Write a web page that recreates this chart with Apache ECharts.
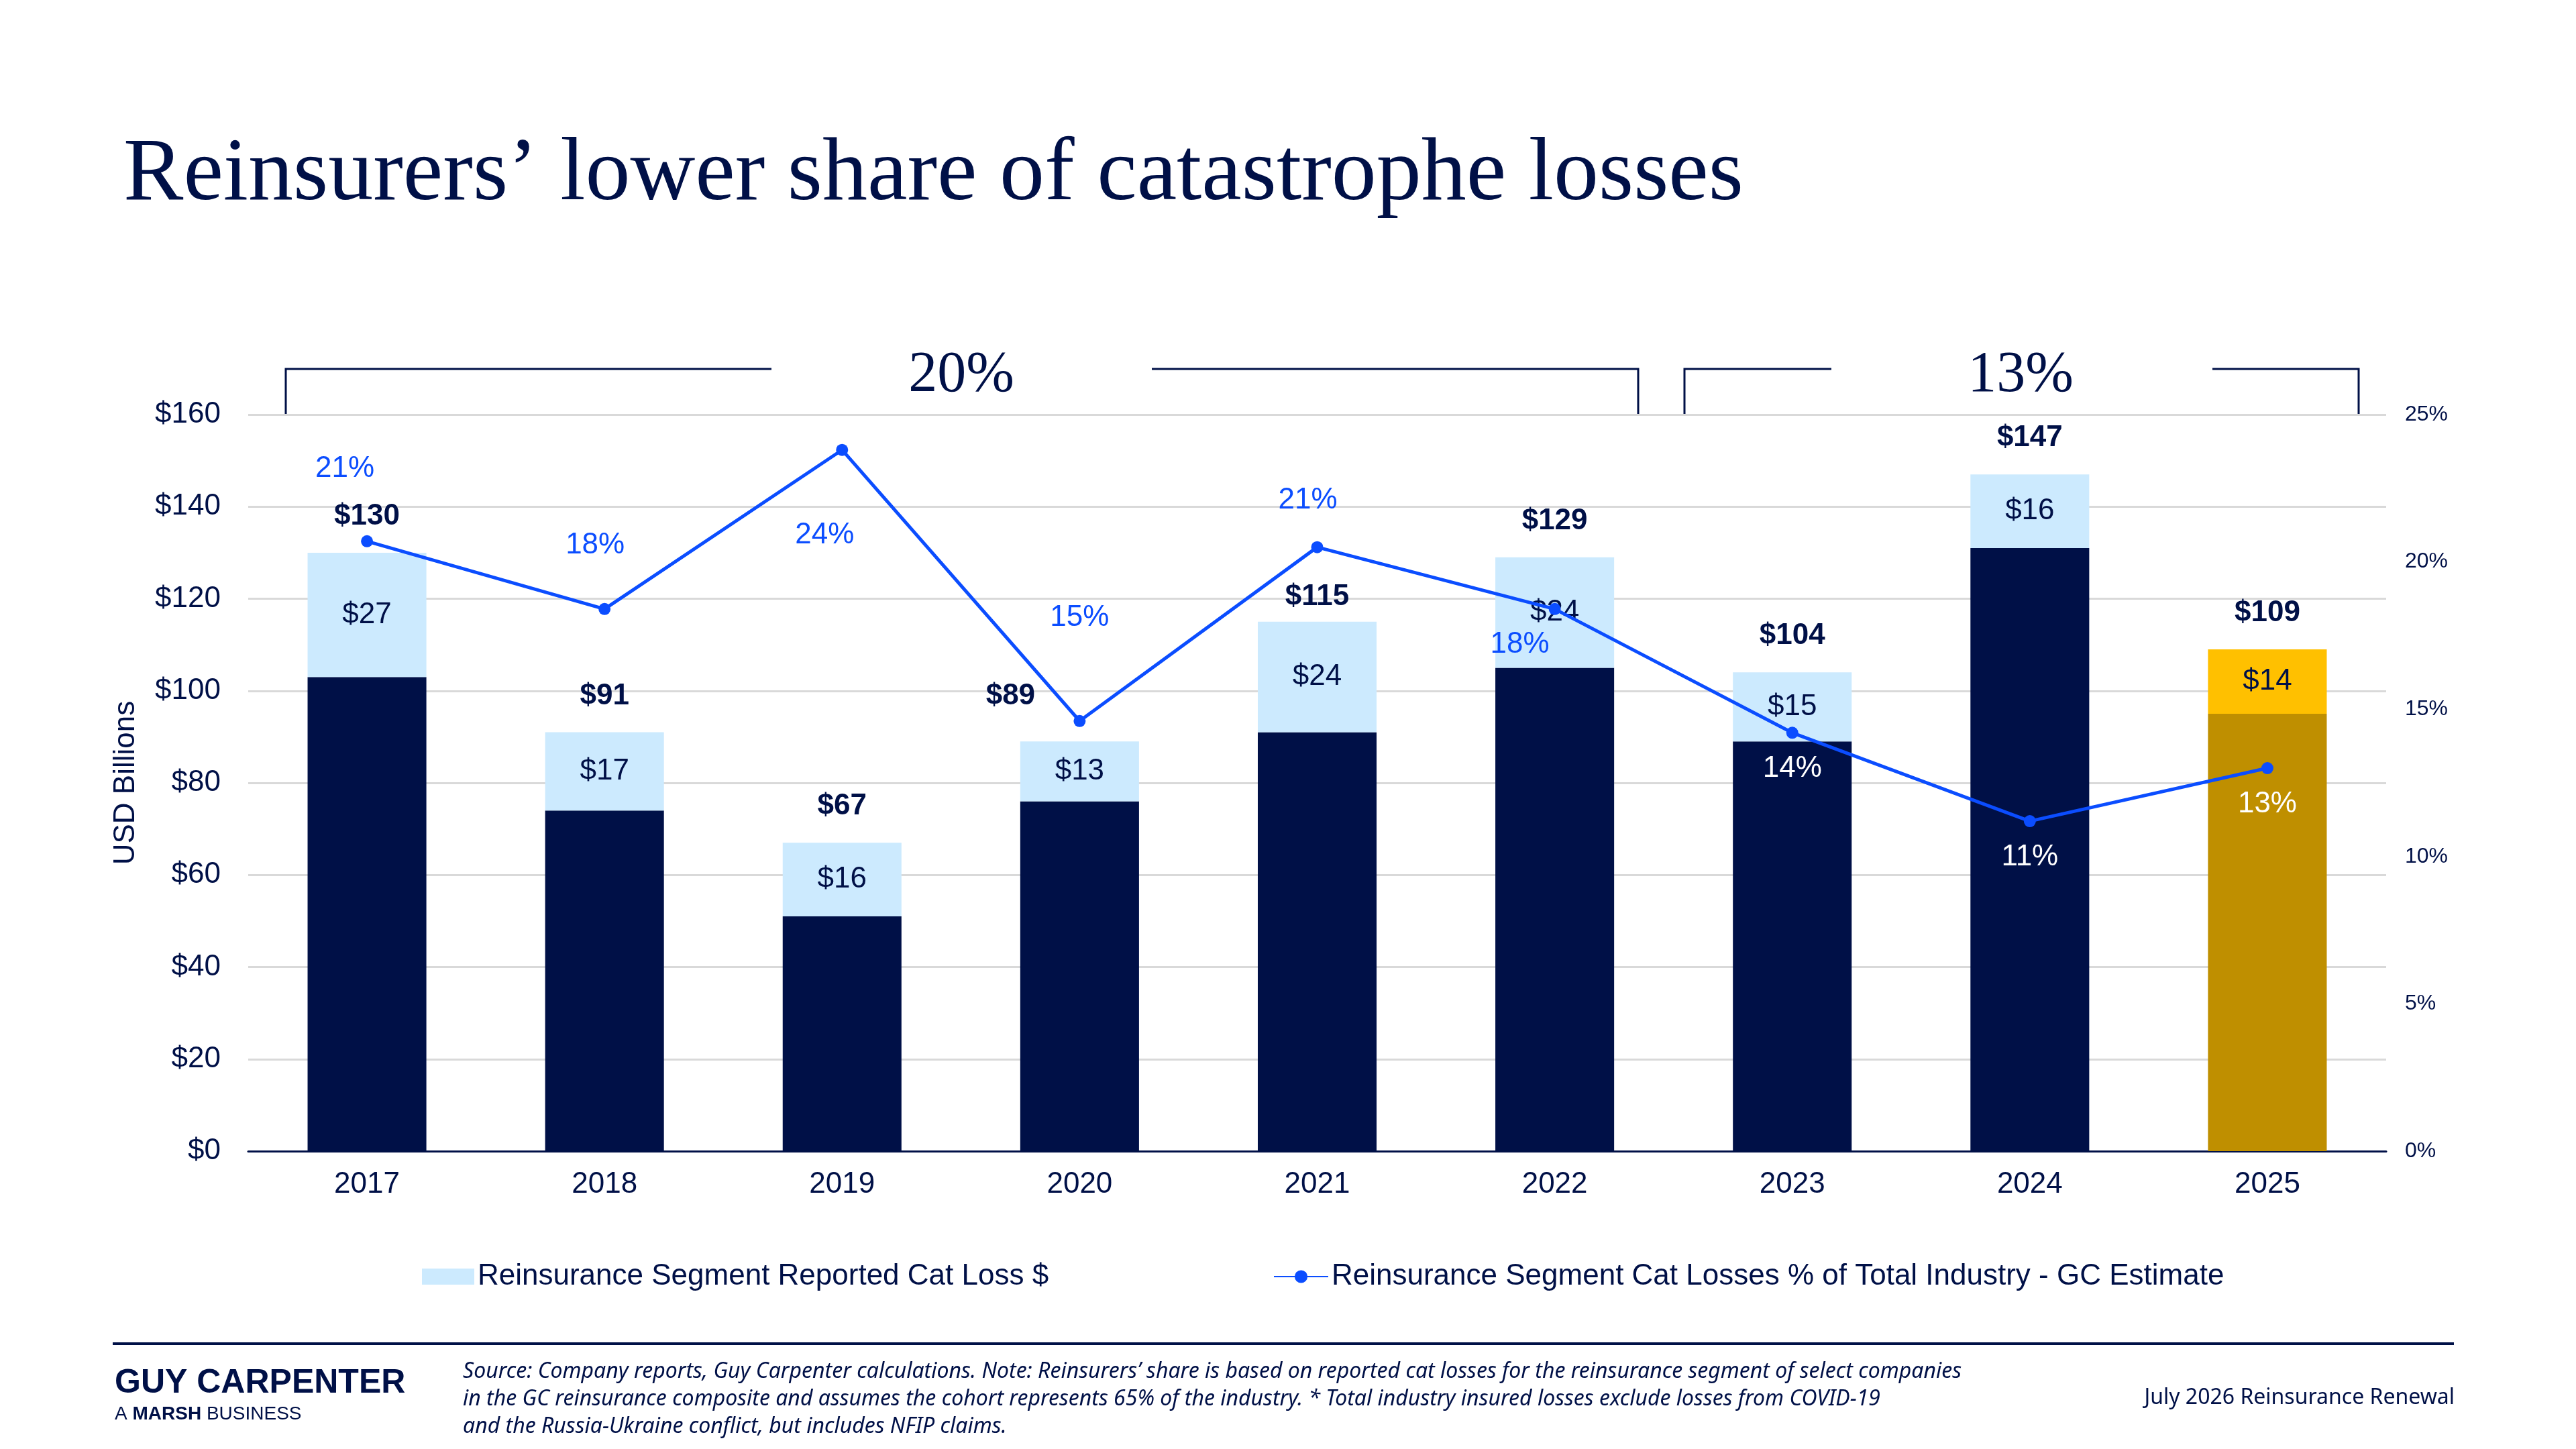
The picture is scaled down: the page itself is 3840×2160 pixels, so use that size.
<!DOCTYPE html>
<html>
<head>
<meta charset="utf-8">
<script src="https://cdn.jsdelivr.net/npm/echarts@6/dist/echarts.min.js"></script>
<style>
  html, body {margin: 0; padding: 0; background: #fff;}
  #main {width: 3840px; height: 2160px;}
</style>
</head>
<body>
<div id="main"></div>
<script>
// chart data
const years = ['2017', '2018', '2019', '2020', '2021', '2022', '2023', '2024', '2025'];
const totalLoss = [130, 91, 67, 89, 115, 129, 104, 147, 109];
const reinsLoss = [27, 17, 16, 13, 24, 24, 15, 16, 14];
const reinsShare = [20.7, 18.4, 23.8, 14.6, 20.5, 18.4, 14.2, 11.2, 13.0];
const periodAverages = ['20%', '13%'];

// label placement (offset from the mark, px)
const totalLabelOffsets = [[0, -54], [0, -54], [0, -54], [-103, -67], [0, -37], [0, -54], [0, -54], [0, -54], [0, -54]];
const shareLabelOffsets = [[-33, -108], [-14, -95], [-26, 127], [0, -154], [-14, -70], [-52, 53], [0, 54], [0, 54], [0, 54]];
const shareLabelColors = ['#0B4DFF', '#0B4DFF', '#0B4DFF', '#0B4DFF', '#0B4DFF', '#0B4DFF', '#fff', '#fff', '#fff'];

const NAVY = '#001047';
const LIGHT = '#CCEAFE';
const BLUE = '#0B4DFF';
const GOLD_DARK = '#BF8F00';
const GOLD = '#FFC000';
const SANS = '"Liberation Sans", Arial, sans-serif';
const LAST = years.length - 1;

const otherLoss = totalLoss.map((t, i) => t - reinsLoss[i]);

const chart = echarts.init(document.getElementById('main'));

chart.setOption({
  backgroundColor: '#fff',
  animation: false,
  textStyle: {fontFamily: SANS, color: NAVY},
  grid: {left: 370, right: 283, top: 618, bottom: 444},
  legend: [
    {
      left: 624, top: 1876,
      itemWidth: 78, itemHeight: 24,
      textStyle: {fontSize: 44, color: NAVY, fontFamily: SANS},
      data: [{name: 'Reinsurance Segment Reported Cat Loss $', icon: 'rect'}]
    },
    {
      left: 1893, top: 1876,
      itemWidth: 81, itemHeight: 24,
      textStyle: {fontSize: 44, color: NAVY, fontFamily: SANS},
      data: ['Reinsurance Segment Cat Losses % of Total Industry - GC Estimate']
    }
  ],
  xAxis: {
    type: 'category',
    data: years,
    axisTick: {show: false},
    axisLine: {lineStyle: {color: NAVY, width: 3}},
    axisLabel: {fontSize: 44, color: NAVY, margin: 28}
  },
  yAxis: [
    {
      type: 'value', min: 0, max: 160, interval: 20,
      name: 'USD Billions', nameLocation: 'middle', nameGap: 160, nameRotate: 90,
      nameTextStyle: {fontSize: 44, color: NAVY},
      axisLabel: {fontSize: 44, color: NAVY, margin: 41, formatter: v => '$' + v},
      splitLine: {lineStyle: {color: '#D9D9D9', width: 3}}
    },
    {
      type: 'value', min: 0, max: 25, interval: 5,
      axisLabel: {fontSize: 32, color: NAVY, margin: 28, formatter: v => v + '%'},
      splitLine: {show: false}
    }
  ],
  series: [
    {
      name: 'Other',
      type: 'bar', stack: 'loss', barWidth: '50%',
      itemStyle: {color: NAVY},
      data: otherLoss.map((v, i) => i === LAST ? {value: v, itemStyle: {color: GOLD_DARK}} : v)
    },
    {
      name: 'Reinsurance Segment Reported Cat Loss $',
      type: 'bar', stack: 'loss', barWidth: '50%',
      itemStyle: {color: LIGHT},
      label: {show: true, position: 'inside', fontSize: 44, color: NAVY, formatter: p => '$' + p.value},
      data: reinsLoss.map((v, i) => i === LAST ? {value: v, itemStyle: {color: GOLD}} : v)
    },
    {
      name: 'Total',
      type: 'scatter', silent: true, z: 6,
      symbolSize: 1,
      itemStyle: {color: 'rgba(0,0,0,0)', opacity: 1},
      data: totalLoss.map((v, i) => ({
        value: v,
        label: {
          show: true, position: 'inside', offset: totalLabelOffsets[i],
          fontSize: 44, fontWeight: 'bold', color: NAVY, opacity: 1,
          formatter: p => '$' + p.value
        }
      }))
    },
    {
      name: 'Reinsurance Segment Cat Losses % of Total Industry - GC Estimate',
      type: 'line', yAxisIndex: 1, z: 5,
      symbol: 'circle', symbolSize: 18,
      lineStyle: {color: BLUE, width: 5},
      itemStyle: {color: BLUE},
      data: reinsShare.map((v, i) => ({
        value: v,
        label: {
          show: true, position: 'inside',
          offset: shareLabelOffsets[i],
          fontSize: 44, color: shareLabelColors[i],
          formatter: p => Math.round(p.value) + '%'
        }
      }))
    }
  ],
  graphic: [
    {
      type: 'text', x: 184, y: 262,
      style: {
        text: 'Reinsurers’ lower share of catastrophe losses',
        font: '134px "Liberation Serif", serif', fill: NAVY,
        textAlign: 'left', textVerticalAlign: 'middle'
      }
    },
    // period brackets
    {type: 'polyline', shape: {points: [[426, 618], [426, 550], [1150, 550]]}, style: {stroke: NAVY, lineWidth: 3, fill: null}},
    {type: 'polyline', shape: {points: [[1717, 550], [2442, 550], [2442, 618]]}, style: {stroke: NAVY, lineWidth: 3, fill: null}},
    {type: 'polyline', shape: {points: [[2511, 618], [2511, 550], [2730, 550]]}, style: {stroke: NAVY, lineWidth: 3, fill: null}},
    {type: 'polyline', shape: {points: [[3298, 550], [3516, 550], [3516, 618]]}, style: {stroke: NAVY, lineWidth: 3, fill: null}},
    {
      type: 'text', x: 1433, y: 560,
      style: {text: periodAverages[0], font: '86px "Liberation Serif", serif', fill: NAVY, textAlign: 'center', textVerticalAlign: 'middle'}
    },
    {
      type: 'text', x: 3012, y: 560,
      style: {text: periodAverages[1], font: '86px "Liberation Serif", serif', fill: NAVY, textAlign: 'center', textVerticalAlign: 'middle'}
    },
    // footer
    {type: 'line', shape: {x1: 168, y1: 2003, x2: 3658, y2: 2003}, style: {stroke: NAVY, lineWidth: 4}},
    {
      type: 'text', x: 171, y: 2062,
      style: {text: 'GUY CARPENTER', font: 'bold 50px "Liberation Sans", Arial, sans-serif', fill: NAVY, textAlign: 'left', textVerticalAlign: 'middle'}
    },
    {
      type: 'text', x: 171, y: 2108,
      style: {
        text: '{a|A }{b|MARSH}{a| BUSINESS}',
        rich: {
          a: {font: '28px "Liberation Sans", Arial, sans-serif', fill: NAVY},
          b: {font: 'bold 28px "Liberation Sans", Arial, sans-serif', fill: NAVY}
        },
        textAlign: 'left', textVerticalAlign: 'middle'
      }
    },
    {
      type: 'text', x: 690, y: 2024,
      style: {
        text: 'Source: Company reports, Guy Carpenter calculations. Note: Reinsurers’ share is based on reported cat losses for the reinsurance segment of select companies\n' +
              'in the GC reinsurance composite and assumes the cohort represents 65% of the industry. * Total industry insured losses exclude losses from COVID-19\n' +
              'and the Russia-Ukraine conflict, but includes NFIP claims.',
        font: 'italic 32px "Noto Sans", sans-serif', fill: NAVY, lineHeight: 41,
        textAlign: 'left', textVerticalAlign: 'top'
      }
    },
    {
      type: 'text', x: 3659, y: 2084,
      style: {text: 'July 2026 Reinsurance Renewal', font: '32px "Noto Sans", sans-serif', fill: NAVY, textAlign: 'right', textVerticalAlign: 'middle'}
    }
  ]
});
</script>
</body>
</html>
